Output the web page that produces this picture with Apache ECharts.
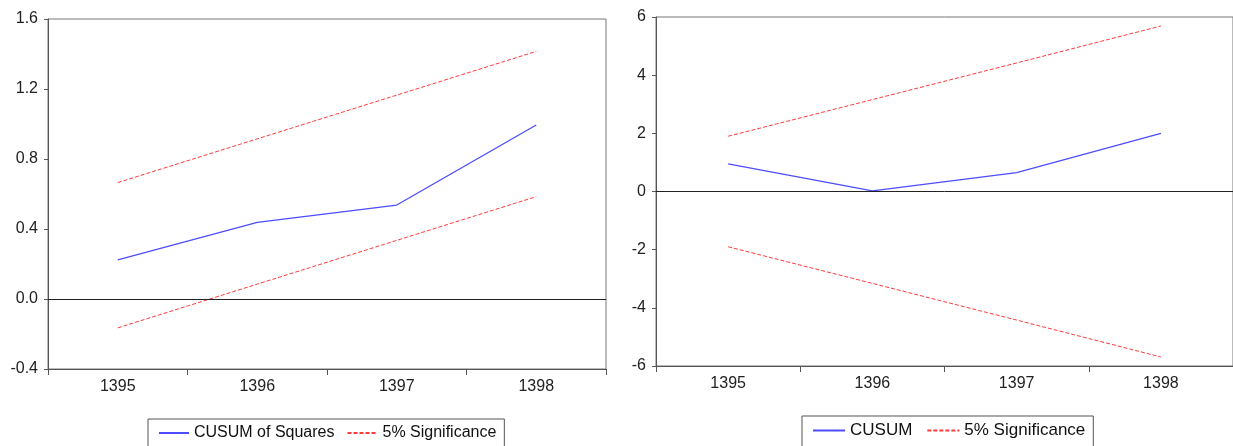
<!DOCTYPE html>
<html><head><meta charset="utf-8">
<script src="https://cdn.jsdelivr.net/npm/echarts@6/dist/echarts.min.js"></script>
<style>html,body{margin:0;padding:0;background:#fff;}#c{width:1233px;height:446px;}</style>
</head><body><div id="c"></div>
<script>
const categories = ['1395', '1396', '1397', '1398'];
const cusumSq = [0.223, 0.438, 0.537, 0.994];
const cusumSqUpper = [0.665, 0.915, 1.165, 1.415];
const cusumSqLower = [-0.165, 0.085, 0.335, 0.585];
const cusum = [0.95, 0.02, 0.65, 2.0];
const cusumUpper = [1.90, 3.16, 4.42, 5.69];
const cusumLower = [-1.90, -3.16, -4.42, -5.69];

const FONT = 'Liberation Sans, Arial, sans-serif';
const BLUE = '#4d4dff';
const RED = '#ff3b3b';
const axisCommonX = (gi) => ({
  type: 'category', gridIndex: gi, data: categories, boundaryGap: true,
  axisLine: { onZero: false, lineStyle: { color: '#555', width: 1 } },
  axisTick: { show: true, length: 6, interval: 0, lineStyle: { color: '#555' } },
  axisLabel: { color: '#222', fontSize: 16, fontFamily: FONT, margin: 10, interval: 0 },
  splitLine: { show: false }
});
const axisCommonY = (gi, min, max, interval, fmt) => ({
  type: 'value', gridIndex: gi, min, max, interval,
  axisLine: { show: true, onZero: false, lineStyle: { color: '#555', width: 1 } },
  axisTick: { show: true, length: 4, lineStyle: { color: '#555' } },
  axisLabel: { color: '#222', fontSize: 16, fontFamily: FONT, margin: 10, formatter: fmt },
  splitLine: { show: false }
});
const zeroLine = { silent: true, symbol: 'none', label: { show: false },
  lineStyle: { color: '#222', type: 'solid', width: 1 }, data: [{ yAxis: 0 }] };

const legendCommon = (fs, gap, iw) => ({
  orient: 'horizontal', borderColor: '#555', borderWidth: 1, borderRadius: 0,
  padding: [6, 8, 8, 10], itemGap: gap, itemWidth: iw, itemHeight: 10,
  itemStyle: { opacity: 0 },
  textStyle: { color: '#111', fontSize: fs, fontFamily: FONT }
});

const option = {
  animation: false,
  backgroundColor: '#fff',
  grid: [
    { left: 48, right: 627, top: 19, bottom: 77, show: true, borderColor: '#777', borderWidth: 1 },
    { left: 656, right: -6, top: 17, bottom: 80, show: true, borderColor: '#777', borderWidth: 1 }
  ],
  xAxis: [axisCommonX(0), axisCommonX(1)],
  yAxis: [
    axisCommonY(0, -0.4, 1.6, 0.4, v => v.toFixed(1)),
    axisCommonY(1, -6, 6, 2, v => String(v))
  ],
  legend: [
    Object.assign({ left: 148, top: 419, data: ['CUSUM of Squares', '5% Significance'] }, legendCommon(16, 12, 30)),
    Object.assign({ left: 802, top: 416, data: ['CUSUM', '5% Significance'] }, legendCommon(17, 14, 32))
  ],
  series: [
    { name: 'CUSUM of Squares', type: 'line', xAxisIndex: 0, yAxisIndex: 0, data: cusumSq,
      symbol: 'none', lineStyle: { color: BLUE, width: 1.3 }, itemStyle: { color: BLUE }, markLine: zeroLine },
    { name: '5% Significance', type: 'line', xAxisIndex: 0, yAxisIndex: 0, data: cusumSqUpper,
      symbol: 'none', lineStyle: { color: RED, width: 1, type: [4, 2] }, itemStyle: { color: RED } },
    { name: '5% Significance', type: 'line', xAxisIndex: 0, yAxisIndex: 0, data: cusumSqLower,
      symbol: 'none', lineStyle: { color: RED, width: 1, type: [4, 2] }, itemStyle: { color: RED } },
    { name: 'CUSUM', type: 'line', xAxisIndex: 1, yAxisIndex: 1, data: cusum,
      symbol: 'none', lineStyle: { color: BLUE, width: 1.3 }, itemStyle: { color: BLUE }, markLine: zeroLine },
    { name: '5% Significance', type: 'line', xAxisIndex: 1, yAxisIndex: 1, data: cusumUpper,
      symbol: 'none', lineStyle: { color: RED, width: 1, type: [4, 2] }, itemStyle: { color: RED } },
    { name: '5% Significance', type: 'line', xAxisIndex: 1, yAxisIndex: 1, data: cusumLower,
      symbol: 'none', lineStyle: { color: RED, width: 1, type: [4, 2] }, itemStyle: { color: RED } }
  ]
};
const chart = echarts.init(document.getElementById('c'), null, { renderer: 'canvas' });
chart.setOption(option);
</script></body></html>
